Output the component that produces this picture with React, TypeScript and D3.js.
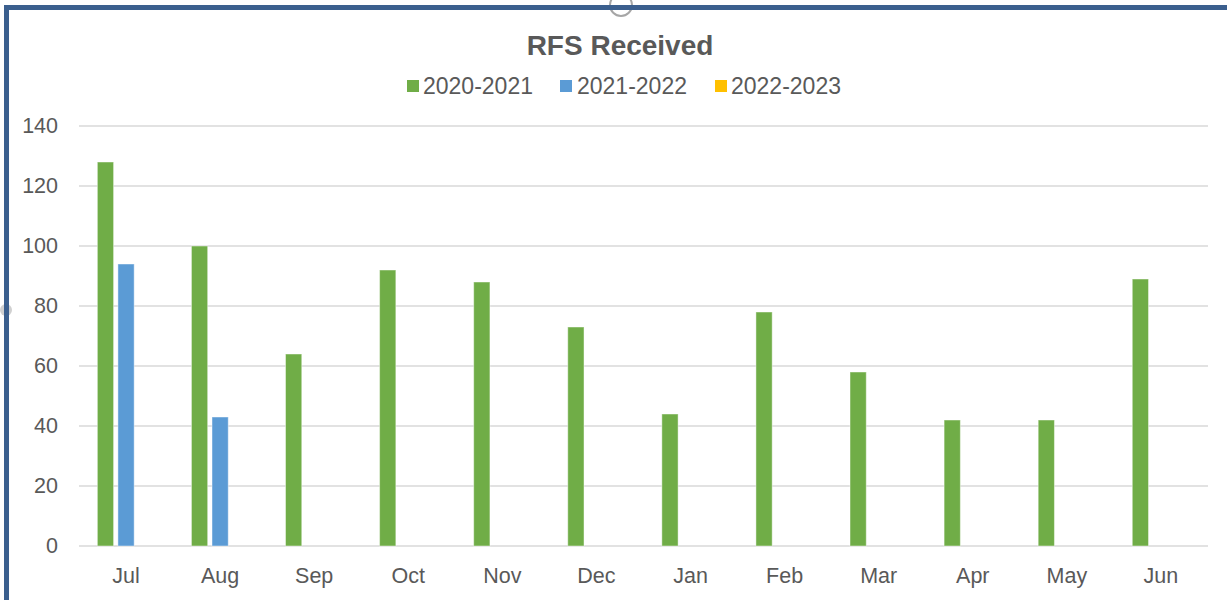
import { scaleBand, scaleLinear } from "d3";

const months = ["Jul", "Aug", "Sep", "Oct", "Nov", "Dec", "Jan", "Feb", "Mar", "Apr", "May", "Jun"];
const seriesNames = ["2020-2021", "2021-2022", "2022-2023"];
const seriesColors = ["#70ad47", "#5b9bd5", "#ffc000"];
const values2020 = [128, 100, 64, 92, 88, 73, 44, 78, 58, 42, 42, 89];
const values2021: (number | null)[] = [94, 43, null, null, null, null, null, null, null, null, null, null];
const values2022: (number | null)[] = [null, null, null, null, null, null, null, null, null, null, null, null];
const yTicks = [0, 20, 40, 60, 80, 100, 120, 140];

const allSeries = [values2020, values2021, values2022];

export default function App() {
  const width = 1227;
  const height = 600;
  const left = 79;
  const right = 1208;
  const top = 126;
  const bottom = 546;
  const textColor = "#595959";
  const font = "'Liberation Sans', Arial, sans-serif";

  const x0 = scaleBand<string>().domain(months).range([left, right]).paddingInner(0.39).paddingOuter(0.195);
  const x1 = scaleBand<string>().domain(seriesNames).range([0, x0.bandwidth()]).paddingInner(0.21);
  const y = scaleLinear().domain([0, 140]).range([bottom, top]);

  const legendItems = [
    { x: 407, tx: 423 },
    { x: 560, tx: 577 },
    { x: 715, tx: 731 },
  ];

  return (
    <svg
      width={width}
      height={height}
      style={{ position: "absolute", left: 0, top: 0, background: "#fff" }}
      fontFamily={font}
    >
      <rect x={0} y={0} width={width} height={height} fill="#fff" />

      {/* little handle artifacts from the screenshot */}
      <circle cx={621} cy={5} r={11} fill="#fff" stroke="#a6a6a6" strokeWidth={2} />
      <circle cx={6} cy={310} r={6} fill="#d0d0d0" />

      {/* frame */}
      <rect x={4} y={5} width={width} height={5} fill="#3b5f8e" />
      <rect x={4} y={5} width={5} height={height} fill="#3b5f8e" />

      <text x={620} y={55} textAnchor="middle" fontSize={28} fontWeight="bold" fill={textColor}>
        RFS Received
      </text>

      {seriesNames.map((name, i) => (
        <g key={name}>
          <rect x={legendItems[i].x} y={80} width={12} height={12} fill={seriesColors[i]} />
          <text x={legendItems[i].tx} y={86} dominantBaseline="central" fontSize={23} fill={textColor}>
            {name}
          </text>
        </g>
      ))}

      {yTicks.map((t) => (
        <g key={t}>
          <line x1={left} x2={right} y1={y(t)} y2={y(t)} stroke="#d9d9d9" strokeWidth={1.5} />
          <text x={58} y={y(t)} textAnchor="end" dominantBaseline="central" fontSize={21.5} fill={textColor}>
            {t}
          </text>
        </g>
      ))}

      {months.map((m, mi) => (
        <g key={m} transform={`translate(${x0(m)},0)`}>
          {allSeries.map((vals, si) => {
            const v = vals[mi];
            if (v == null) return null;
            return (
              <rect
                key={si}
                x={x1(seriesNames[si])}
                y={y(v)}
                width={x1.bandwidth()}
                height={y(0) - y(v)}
                fill={seriesColors[si]}
                stroke="#ffffff"
                strokeOpacity={0.45}
                strokeWidth={1}
              />
            );
          })}
          <text
            x={x0.bandwidth() / 2}
            y={576}
            textAnchor="middle"
            dominantBaseline="central"
            fontSize={21.5}
            fill={textColor}
          >
            {m}
          </text>
        </g>
      ))}
    </svg>
  );
}
